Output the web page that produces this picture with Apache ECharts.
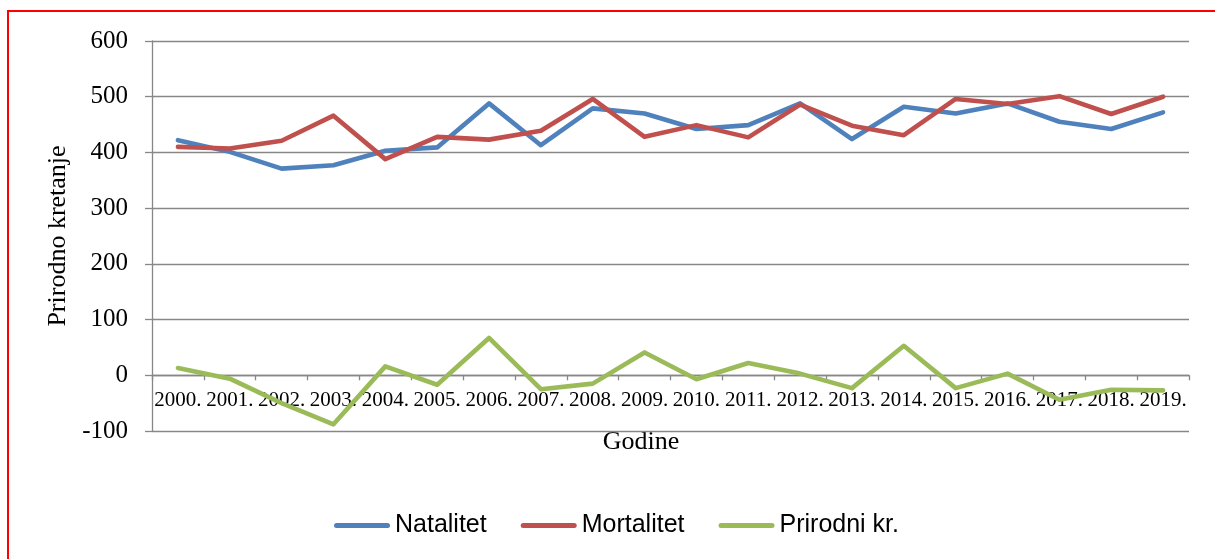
<!DOCTYPE html>
<html>
<head>
<meta charset="utf-8">
<title>Prirodno kretanje</title>
<style>
	html, body { margin: 0; padding: 0; background: #fff; overflow: hidden; }
	#frame { position: absolute; left: 7px; top: 10px; width: 1400px; height: 800px; border: 2px solid #ff0000; }
	#chart { position: absolute; left: 0; top: 0; width: 1215px; height: 559px; }
</style>
</head>
<body>
<div id="frame"></div>
<div id="chart"></div>
<script src="https://cdn.jsdelivr.net/npm/echarts@6/dist/echarts.min.js"></script>
<script type="text/javascript">
	// godine
	var years = ['2000.', '2001.', '2002.', '2003.', '2004.', '2005.', '2006.', '2007.', '2008.', '2009.',
		'2010.', '2011.', '2012.', '2013.', '2014.', '2015.', '2016.', '2017.', '2018.', '2019.'];
	var natalitet = [422, 401, 371, 377, 403, 409, 488, 413, 479, 470, 442, 449, 488, 424, 482, 470, 488, 455, 442, 472];
	var mortalitet = [410, 407, 421, 466, 388, 428, 423, 439, 496, 428, 449, 427, 486, 448, 431, 496, 487, 501, 469, 500];
	var prirodni = [13, -6, -50, -88, 16, -17, 67, -25, -15, 41, -7, 22, 3, -23, 53, -23, 3, -44, -26, -27];
	var yTicks = [-100, 0, 100, 200, 300, 400, 500, 600];

	var serif = 'Liberation Serif';
	var grey = '#878787';
	var gridH = 390;
	var yMin = yTicks[0], yMax = yTicks[yTicks.length - 1];
	// x os lezi na nuli, ne na dnu
	var zeroOffset = gridH * (0 - yMin) / (yMax - yMin);

	var myChart = echarts.init(document.getElementById('chart'));

	function lineSeries(name, data, color) {
		return {
			name: name,
			type: 'line',
			data: data,
			symbol: 'none',
			smooth: false,
			lineStyle: { width: 4.6, color: color, cap: 'round', join: 'round' },
			itemStyle: { color: color }
		};
	}

	var option = {
		animation: false,
		backgroundColor: 'transparent',
		grid: { left: 152, right: 26, top: 41, height: gridH },
		legend: {
			left: 329,
			top: 508,
			itemWidth: 56,
			itemHeight: 5,
			itemGap: 34,
			icon: 'path://M2.5,0 H53.5 A2.5,2.5 0 0 1 53.5,5 H2.5 A2.5,2.5 0 0 1 2.5,0 Z',
			textStyle: { fontFamily: 'Liberation Sans', fontSize: 25, color: '#000' },
			data: ['Natalitet', 'Mortalitet', 'Prirodni kr.']
		},
		xAxis: {
			type: 'category',
			data: years,
			boundaryGap: true,
			offset: -zeroOffset,
			axisLine: { onZero: false, lineStyle: { color: grey, width: 1.3 } },
			axisTick: { show: true, length: 5, lineStyle: { color: grey, width: 1.3 } },
			axisLabel: { interval: 0, margin: 15, fontFamily: serif, fontSize: 21, color: '#000' },
			splitLine: { show: false }
		},
		yAxis: {
			type: 'value',
			min: yMin,
			max: yMax,
			interval: 100,
			axisLine: { show: true, lineStyle: { color: grey, width: 1.3 } },
			axisTick: { show: true, length: 7, lineStyle: { color: grey, width: 1.3 } },
			axisLabel: { margin: 24, fontFamily: serif, fontSize: 25, color: '#000' },
			splitLine: { show: true, lineStyle: { color: grey, width: 1.3 } }
		},
		graphic: [{
			type: 'text',
			x: 58,
			y: 236,
			rotation: Math.PI / 2,
			style: { text: 'Prirodno kretanje', fontFamily: serif, fontSize: 26, fill: '#000', align: 'center', verticalAlign: 'middle' }
		}, {
			type: 'text',
			x: 641,
			y: 442,
			style: { text: 'Godine', fontFamily: serif, fontSize: 26, fill: '#000', align: 'center', verticalAlign: 'middle' }
		}],
		series: [
			lineSeries('Natalitet', natalitet, '#4F81BD'),
			lineSeries('Mortalitet', mortalitet, '#C0504D'),
			lineSeries('Prirodni kr.', prirodni, '#9BBB59')
		]
	};
	myChart.setOption(option);
</script>
</body>
</html>
